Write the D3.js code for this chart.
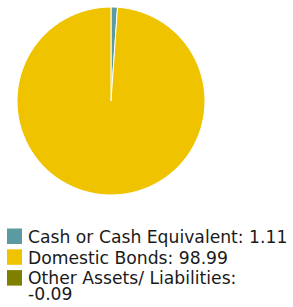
<!DOCTYPE html>
<html>
<head>
<meta charset="utf-8">
<script src="https://cdn.jsdelivr.net/npm/d3@7"></script>
<style>
  body { margin: 0; background: #fff; }
  text { font-family: "DejaVu Sans", sans-serif; }
</style>
</head>
<body>
<svg id="chart" width="293" height="307"></svg>
<script>
// chart data
var categories = ["Cash or Cash Equivalent", "Domestic Bonds", "Other Assets/ Liabilities"];
var values = [1.11, 98.99, -0.09];
var labels = ["1.11", "98.99", "-0.09"];
var colors = ["#5a9aa0", "#f0c300", "#808000"];

var svg = d3.select("#chart");

var cx = 111, cy = 101, radius = 94;

var data = categories.map(function(c, i) {
    return { name: c, value: values[i], label: labels[i], color: colors[i] };
});

// negative values get no slice
var pie = d3.pie()
    .sort(null)
    .value(function(d) { return Math.max(0, d.value); });

var arc = d3.arc()
    .innerRadius(0)
    .outerRadius(radius);

var g = svg.append("g")
    .attr("transform", "translate(" + cx + "," + cy + ")");

g.selectAll("path")
    .data(pie(data).filter(function(d) { return d.data.value > 0; }))
    .enter().append("path")
    .attr("d", arc)
    .attr("fill", function(d) { return d.data.color; })
    .attr("stroke", "#fff")
    .attr("stroke-width", 1);

//legend
var legend = svg.append("g").attr("class", "legend");

var rows = [];
data.forEach(function(d) {
    // long entry wraps like the original
    if (d.name.length > 24) {
        rows.push({ color: d.color, lines: [d.name + ":", d.label] });
    } else {
        rows.push({ color: d.color, lines: [d.name + ": " + d.label] });
    }
});

var rowH = 20.8;
rows.forEach(function(r, i) {
    var top = 228.5 + rowH * i;
    legend.append("rect")
        .attr("x", 7)
        .attr("y", top)
        .attr("width", 15)
        .attr("height", 15.5)
        .attr("fill", r.color);
    var t = legend.append("text")
        .attr("x", 28)
        .attr("y", top + 14.2)
        .style("font-size", "17.2px")
        .attr("fill", "#1a1a1a");
    r.lines.forEach(function(l, j) {
        t.append("tspan")
            .attr("x", 28)
            .attr("dy", j === 0 ? 0 : 15.8)
            .text(l);
    });
});
</script>
</body>
</html>
